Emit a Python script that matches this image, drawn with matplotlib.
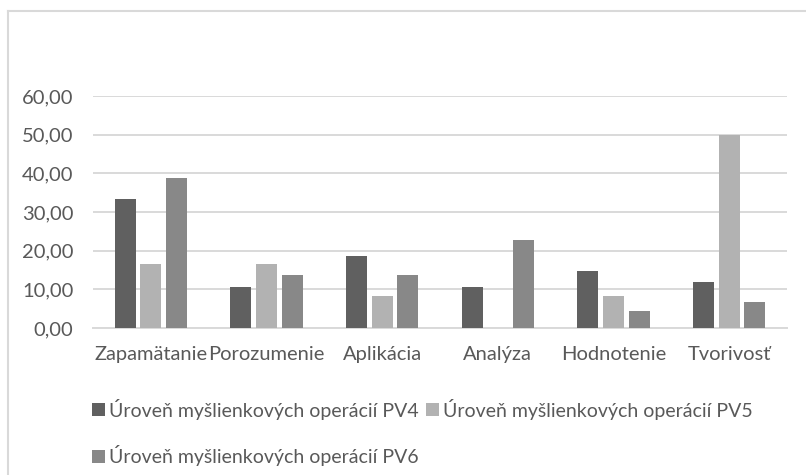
import numpy as np
import matplotlib
matplotlib.use("Agg")
from matplotlib import pyplot as plt
from matplotlib.lines import Line2D

categories = ["Zapamätanie", "Porozumenie", "Aplikácia", "Analýza", "Hodnotenie", "Tvorivosť"]
pv4 = [33.33, 10.67, 18.67, 10.67, 14.67, 12.00]
pv5 = [16.67, 16.67, 8.33, 0.00, 8.33, 50.00]
pv6 = [38.67, 13.67, 13.67, 22.67, 4.50, 6.83]
labels = ["Úroveň myšlienkových operácií PV4",
          "Úroveň myšlienkových operácií PV5",
          "Úroveň myšlienkových operácií PV6"]
colors = ["#606060", "#b2b2b2", "#888888"]

plt.rcParams['font.family'] = ['Lato', 'DejaVu Sans']
txt = "#595959"
fs = 14.5

fig = plt.figure(figsize=(8.06, 4.75), dpi=100)
ax = fig.add_axes([0.1154, 0.3095, 0.861, 0.4885])

x = np.arange(len(categories))
w = 0.18
step = 0.222
bars = []
for i, vals in enumerate([pv4, pv5, pv6]):
    b = ax.bar(x + (i - 1) * step, vals, width=w, color=colors[i], label=labels[i], zorder=3)
    bars.append(b)

ax.set_xlim(-0.5, len(categories) - 0.5)
ax.set_ylim(0, 60)
yt = np.arange(0, 61, 10)
ax.set_yticks(yt)
ax.set_yticklabels([("%.2f" % v).replace(".", ",") for v in yt])
ax.set_xticks(x)
ax.set_xticklabels(categories)
ax.grid(axis="y", color="#d9d9d9", linewidth=1.4, zorder=0)
for s in ["top", "right", "left"]:
    ax.spines[s].set_visible(False)
ax.spines["bottom"].set_color("#d9d9d9")
ax.spines["bottom"].set_linewidth(1.4)
ax.tick_params(axis="both", length=0, labelsize=fs, colors=txt)
ax.tick_params(axis="x", pad=13)
ax.tick_params(axis="y", pad=14)

# chart frame (left and top edges visible)
fig.add_artist(Line2D([8 / 806, 8 / 806], [0, 1 - 11 / 475], color="#d9d9d9", lw=1.5))
fig.add_artist(Line2D([8 / 806, 1], [1 - 11 / 475, 1 - 11 / 475], color="#d9d9d9", lw=1.5))

h = [bars[0], bars[2], bars[1]]
l = [labels[0], labels[2], labels[1]]
leg = fig.legend(h, l, ncol=2, loc="upper left", bbox_to_anchor=(0.105, 1 - 391 / 475),
                 frameon=False, fontsize=14, handlelength=0.65, handleheight=0.65,
                 handletextpad=0.2, columnspacing=0.4, labelspacing=1.3,
                 borderaxespad=0, labelcolor=txt)

fig.savefig("out.png", dpi=100)
